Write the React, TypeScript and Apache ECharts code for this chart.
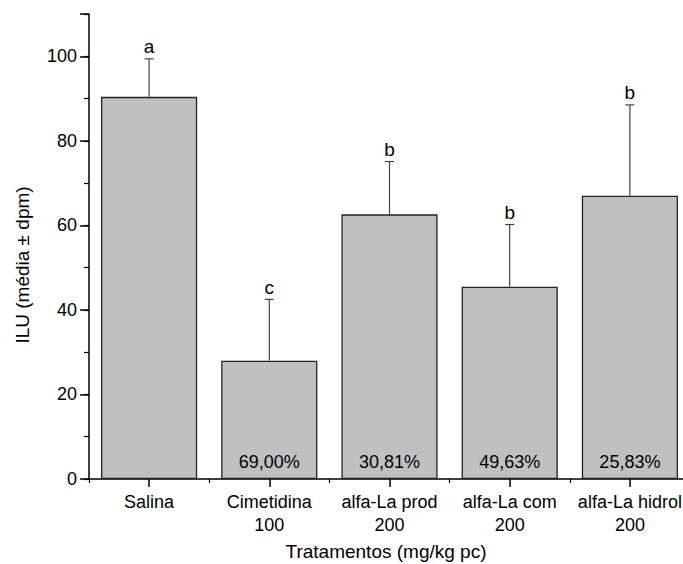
import React, { useEffect, useRef } from "react";
import * as echarts from "echarts";

const categories = ["Salina", "Cimetidina\n100", "alfa-La prod\n200", "alfa-La com\n200", "alfa-La hidrol\n200"];
const means = [90.4, 28.0, 62.6, 45.5, 67.0];
const sds = [9.0, 14.5, 12.5, 14.7, 21.5];
const letters = ["a", "c", "b", "b", "b"];
const inhibition = ["", "69,00%", "30,81%", "49,63%", "25,83%"];
const yMin = 0;
const yMax = 110;
const yMajor = 20;
const yMinor = 10;

const FONT = "'Liberation Sans', Arial, sans-serif";

export default function App() {
  const ref = useRef<HTMLDivElement>(null);
  useEffect(() => {
    if (!ref.current) return;
    const chart = echarts.init(ref.current, undefined, { renderer: "svg" });
    const errData = means.map((m, i) => [i, m, m + sds[i]]);
    chart.setOption({
      animation: false,
      backgroundColor: "#ffffff",
      textStyle: { fontFamily: FONT },
      grid: { left: 89, right: -7, top: 14, bottom: 85, outerBoundsMode: "none" },
      xAxis: [
        {
          type: "category",
          data: categories,
          position: "bottom",
          axisLine: { show: true, lineStyle: { color: "#000", width: 1.5 } },
          axisTick: { show: true, alignWithLabel: true, length: 8, lineStyle: { color: "#000", width: 1.5 } },
          axisLabel: { fontSize: 18, color: "#000", fontFamily: FONT, margin: 11, lineHeight: 23, interval: 0 },
          splitLine: { show: false },
        },
        {
          type: "category",
          data: categories,
          position: "bottom",
          axisLine: { show: false },
          axisTick: { show: true, length: 4, lineStyle: { color: "#000", width: 1.2 } },
          axisLabel: { show: false },
          splitLine: { show: false },
        },
      ],
      yAxis: [
        {
          type: "value",
          min: yMin,
          max: yMax,
          interval: yMajor,
          axisLine: { show: true, lineStyle: { color: "#000", width: 1.5 } },
          axisTick: { show: true, length: 9, lineStyle: { color: "#000", width: 1.5 } },
          axisLabel: {
            fontSize: 18,
            color: "#000",
            fontFamily: FONT,
            margin: 12,
            formatter: (v: number) => (v > 100 ? "" : String(v)),
          },
          splitLine: { show: false },
        },
        {
          type: "value",
          min: yMin,
          max: yMax,
          interval: yMinor,
          position: "left",
          axisLine: { show: false },
          axisTick: { show: true, length: 5, lineStyle: { color: "#000", width: 1.2 } },
          axisLabel: { show: false },
          splitLine: { show: false },
        },
      ],
      series: [
        {
          type: "bar",
          data: means,
          barWidth: "80%",
          itemStyle: { color: "#c0c0c0", borderColor: "#222", borderWidth: 1.3 },
          label: {
            show: true,
            position: "insideBottom",
            distance: 8,
            fontSize: 18,
            color: "#000",
            fontFamily: FONT,
            formatter: (p: any) => inhibition[p.dataIndex],
          },
          z: 2,
        },
        {
          type: "custom",
          data: errData,
          z: 3,
          renderItem: (params: any, api: any) => {
            const idx = api.value(0);
            const base = api.coord([idx, api.value(1)]);
            const top = api.coord([idx, api.value(2)]);
            const capHalf = 4.5;
            return {
              type: "group",
              children: [
                {
                  type: "line",
                  shape: { x1: base[0], y1: base[1], x2: top[0], y2: top[1] },
                  style: { stroke: "#444", lineWidth: 1.2 },
                },
                {
                  type: "line",
                  shape: { x1: top[0] - capHalf, y1: top[1], x2: top[0] + capHalf, y2: top[1] },
                  style: { stroke: "#444", lineWidth: 1.2 },
                },
                {
                  type: "text",
                  x: top[0],
                  y: top[1] - 12,
                  style: {
                    text: letters[params.dataIndex],
                    fill: "#000",
                    fontSize: 19,
                    fontFamily: FONT,
                    align: "center",
                    verticalAlign: "middle",
                  },
                },
              ],
            };
          },
        },
      ],
      graphic: [
        {
          type: "text",
          x: 22,
          y: 265,
          rotation: Math.PI / 2,
          style: {
            text: "ILU (média ± dpm)",
            fill: "#000",
            fontSize: 19,
            fontFamily: FONT,
            align: "center",
            verticalAlign: "middle",
          },
        },
        {
          type: "text",
          x: 386,
          y: 551,
          style: {
            text: "Tratamentos (mg/kg pc)",
            fill: "#000",
            fontSize: 19,
            fontFamily: FONT,
            align: "center",
            verticalAlign: "middle",
          },
        },
      ],
    });
    return () => chart.dispose();
  }, []);
  return <div ref={ref} style={{ position: "absolute", left: 0, top: 0, width: 683, height: 564 }} />;
}
